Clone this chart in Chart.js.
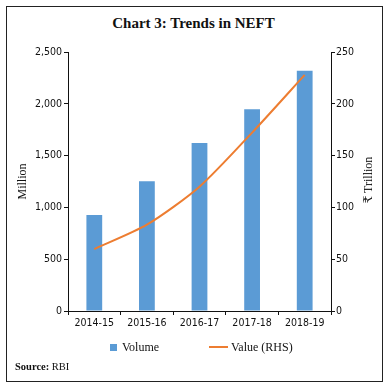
<!DOCTYPE html>
<html>
<head>
<meta charset="utf-8">
<script src="https://cdn.jsdelivr.net/npm/chart.js@4"></script>
<style>
  body { margin: 0; width: 387px; height: 391px; position: relative; background: #fff; overflow: hidden; }
  #frame { position: absolute; left: 6px; top: 6px; width: 375px; height: 374px; border: 1px solid #222; }
  #title { position: absolute; left: 0; width: 387px; top: 15px; text-align: center;
           font: bold 15px "Liberation Serif", serif; color: #111; }
  #chart { position: absolute; left: 0; top: 0; }
  .leg { position: absolute; font: 12px "Liberation Serif", serif; color: #111; line-height: 14px; }
  .sw { position: absolute; }
  #rtitle { position: absolute; left: 318px; top: 173px; width: 100px; text-align: center;
            font: 12px "Liberation Serif", "DejaVu Serif", serif; color: #111; line-height: 14px;
            transform: rotate(-90deg); }
  #source { position: absolute; left: 15px; top: 361px; font: 10.5px "Liberation Serif", serif; color: #111; }
</style>
</head>
<body>
<div id="frame"></div>
<div id="title">Chart 3: Trends in NEFT</div>
<canvas id="chart" width="387" height="391"></canvas>
<div id="rtitle">₹ Trillion</div>
<div class="sw" style="left:110px;top:344px;width:7px;height:7px;background:#5B9BD5"></div>
<div class="leg" style="left:122px;top:340px">Volume</div>
<div class="sw" style="left:209px;top:346px;width:19px;height:2px;background:#ED7D31"></div>
<div class="leg" style="left:231px;top:340px">Value (RHS)</div>
<div id="source"><b>Source:</b> RBI</div>
<script>
const years = ['2014-15', '2015-16', '2016-17', '2017-18', '2018-19'];
const volumeMillion = [927.6, 1252.9, 1622.1, 1946.4, 2318.9];
const valueTrillion = [59.8, 83.3, 120.0, 172.2, 227.9];

const tickFont = { family: '"DejaVu Sans Condensed", "DejaVu Sans", sans-serif', size: 10.5 };
const titleFont = { family: '"Liberation Serif", "DejaVu Serif", serif', size: 12 };
const axisColor = '#111';

new Chart(document.getElementById('chart'), {
    data: {
        labels: years,
        datasets: [
            {
                type: 'line',
                label: 'Value (RHS)',
                data: valueTrillion,
                yAxisID: 'y1',
                borderColor: '#ED7D31',
                borderWidth: 2,
                pointRadius: 0,
                tension: 0.25,
                order: 1
            },
            {
                type: 'bar',
                label: 'Volume',
                data: volumeMillion,
                yAxisID: 'y',
                backgroundColor: '#5B9BD5',
                barPercentage: 0.3,
                categoryPercentage: 1,
                order: 2
            }
        ]
    },
    options: {
        responsive: false,
        animation: false,
        layout: { padding: { top: 52, left: 0, right: 0, bottom: 0 } },
        plugins: { legend: { display: false }, tooltip: { enabled: false } },
        scales: {
            x: {
                offset: true,
                grid: { drawOnChartArea: false, tickLength: 4, color: axisColor, offset: true },
                border: { color: axisColor },
                ticks: { font: tickFont, color: axisColor, maxRotation: 0, autoSkip: false, padding: 2 },
                afterFit: s => { s.height = 80; }
            },
            y: {
                position: 'left',
                min: 0, max: 2500,
                grid: { drawOnChartArea: false, tickLength: 4, color: axisColor },
                border: { color: axisColor },
                ticks: {
                    stepSize: 500, font: tickFont, color: axisColor, padding: 2,
                    callback: v => v.toLocaleString('en-US')
                },
                title: { display: true, text: 'Million', font: titleFont, color: axisColor, padding: { top: 16 } },
                afterFit: s => { s.width = 68; }
            },
            y1: {
                position: 'right',
                min: 0, max: 250,
                grid: { drawOnChartArea: false, tickLength: 4, color: axisColor },
                border: { color: axisColor },
                ticks: { stepSize: 50, font: tickFont, color: axisColor, padding: 1 },
                afterFit: s => { s.width = 56; }
            }
        }
    }
});
</script>
</body>
</html>
